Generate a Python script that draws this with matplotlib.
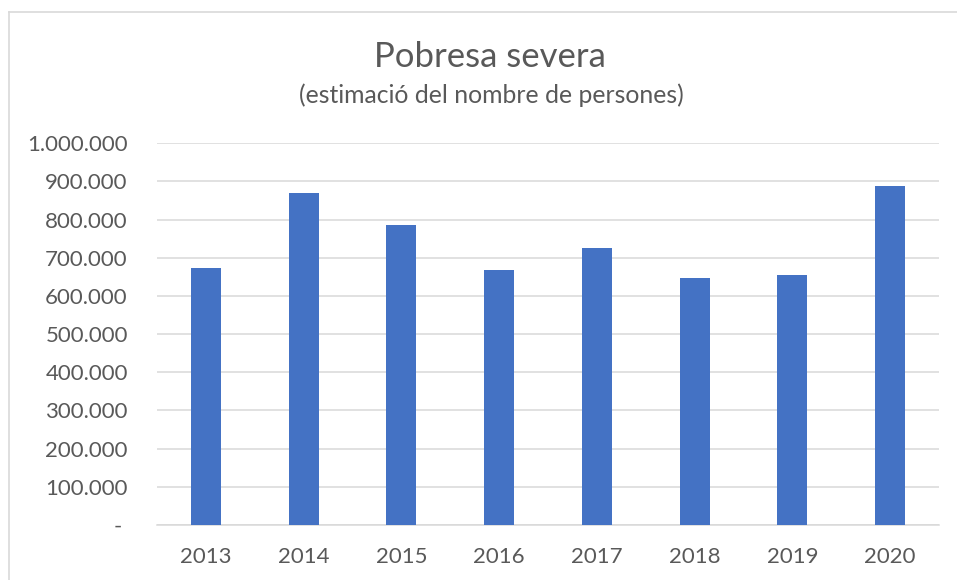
import matplotlib.pyplot as plt
from matplotlib.lines import Line2D
from matplotlib.ticker import FuncFormatter

# Data
years = ['2013', '2014', '2015', '2016', '2017', '2018', '2019', '2020']
persons = [672000, 870000, 786000, 668000, 726000, 648000, 654000, 888000]
y_ticks = [0, 100000, 200000, 300000, 400000, 500000, 600000, 700000, 800000, 900000, 1000000]

W, H = 957, 580
txt_color = '#595959'
grid_color = '#d9d9d9'
plt.rcParams['font.family'] = ['Lato', 'DejaVu Sans']


def fmt(v, pos):
    if v == 0:
        return '- '
    return f'{int(v):,}'.replace(',', '.')


fig = plt.figure(figsize=(W / 100, H / 100), dpi=100)
ax = fig.add_axes([157 / W, (H - 525) / H, (939 - 157) / W, (525 - 143.3) / H])

x = range(len(years))
ax.bar(x, persons, width=0.307, color='#4472C4', zorder=3)

ax.set_xlim(-0.5, len(years) - 0.5)
ax.set_ylim(0, 1000000)
ax.set_xticks(list(x))
ax.set_xticklabels(years)
ax.set_yticks(y_ticks)
ax.yaxis.set_major_formatter(FuncFormatter(fmt))

ax.grid(axis='y', color=grid_color, linewidth=1.1, zorder=0)
for s in ['top', 'right', 'left']:
    ax.spines[s].set_visible(False)
ax.spines['bottom'].set_color(grid_color)
ax.spines['bottom'].set_linewidth(1.1)
ax.tick_params(axis='both', length=0, colors=txt_color, labelsize=16)
ax.tick_params(axis='y', pad=21)
ax.tick_params(axis='x', pad=16)

# Titles
fig.text(490 / W, 1 - 67 / H, 'Pobresa severa', ha='center', va='baseline',
         fontsize=25, color=txt_color)
fig.text(491 / W, 1 - 103 / H, '(estimació del nombre de persones)', ha='center',
         va='baseline', fontsize=17.8, color=txt_color)

# Chart area border (left and top visible)
fig.add_artist(Line2D([9 / W, 9 / W], [0, 1 - 12 / H], transform=fig.transFigure,
                      color=grid_color, linewidth=1.2))
fig.add_artist(Line2D([9 / W, 1], [1 - 12 / H, 1 - 12 / H], transform=fig.transFigure,
                      color=grid_color, linewidth=1.2))

fig.savefig('out.png', dpi=100, facecolor='white')
